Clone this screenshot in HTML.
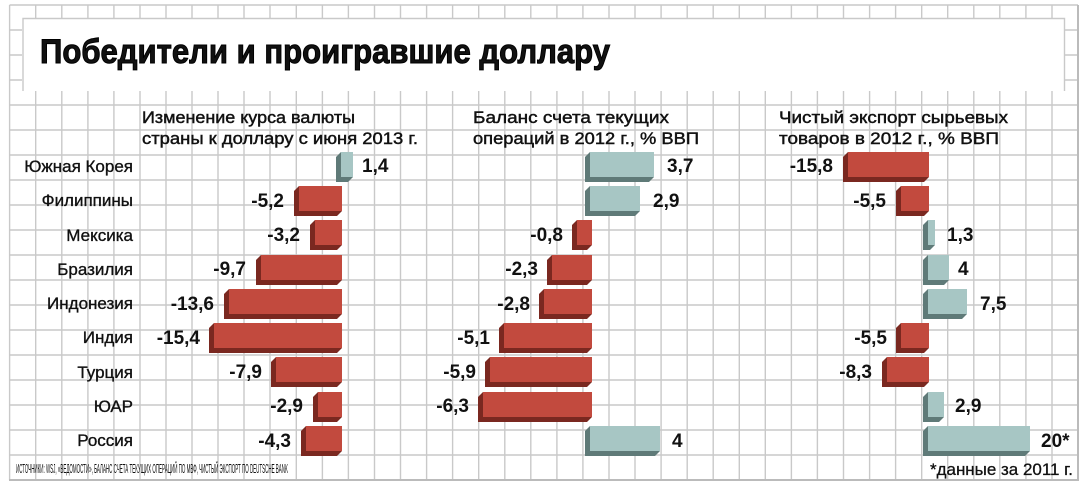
<!DOCTYPE html>
<html><head><meta charset="utf-8"><style>
html,body{margin:0;padding:0;background:#fff}
svg{display:block}
text{font-family:"Liberation Sans","DejaVu Sans",sans-serif;fill:#111}
.c{font-size:17px;stroke:#111;stroke-width:0.35}
.v{font-size:19px;font-weight:bold}
.h{font-size:17px;stroke:#111;stroke-width:0.45}
</style></head><body>
<svg width="1087" height="486" viewBox="0 0 1087 486" xmlns="http://www.w3.org/2000/svg">
<rect x="0" y="0" width="1087" height="486" fill="#fff"/>
<g stroke="#c9c9c9" stroke-width="1.4">
<line x1="9.6" y1="5" x2="9.6" y2="480"/><line x1="35.7" y1="5" x2="35.7" y2="480"/><line x1="61.8" y1="5" x2="61.8" y2="480"/><line x1="87.9" y1="5" x2="87.9" y2="480"/><line x1="113.9" y1="5" x2="113.9" y2="480"/><line x1="140" y1="5" x2="140" y2="480"/><line x1="166" y1="5" x2="166" y2="480"/><line x1="192" y1="5" x2="192" y2="480"/><line x1="218" y1="5" x2="218" y2="480"/><line x1="244" y1="5" x2="244" y2="480"/><line x1="270" y1="5" x2="270" y2="480"/><line x1="296.3" y1="5" x2="296.3" y2="480"/><line x1="322.4" y1="5" x2="322.4" y2="480"/><line x1="348.4" y1="5" x2="348.4" y2="480"/><line x1="374.5" y1="5" x2="374.5" y2="480"/><line x1="400.5" y1="5" x2="400.5" y2="480"/><line x1="426.6" y1="5" x2="426.6" y2="480"/><line x1="452.6" y1="5" x2="452.6" y2="480"/><line x1="478.7" y1="5" x2="478.7" y2="480"/><line x1="504.8" y1="5" x2="504.8" y2="480"/><line x1="530.8" y1="5" x2="530.8" y2="480"/><line x1="556.9" y1="5" x2="556.9" y2="480"/><line x1="582.9" y1="5" x2="582.9" y2="480"/><line x1="609" y1="5" x2="609" y2="480"/><line x1="635" y1="5" x2="635" y2="480"/><line x1="661.1" y1="5" x2="661.1" y2="480"/><line x1="687.2" y1="5" x2="687.2" y2="480"/><line x1="713.2" y1="5" x2="713.2" y2="480"/><line x1="739.3" y1="5" x2="739.3" y2="480"/><line x1="765.3" y1="5" x2="765.3" y2="480"/><line x1="791.4" y1="5" x2="791.4" y2="480"/><line x1="817.4" y1="5" x2="817.4" y2="480"/><line x1="843.5" y1="5" x2="843.5" y2="480"/><line x1="869.6" y1="5" x2="869.6" y2="480"/><line x1="895.6" y1="5" x2="895.6" y2="480"/><line x1="921.7" y1="5" x2="921.7" y2="480"/><line x1="947.7" y1="5" x2="947.7" y2="480"/><line x1="973.8" y1="5" x2="973.8" y2="480"/><line x1="999.8" y1="5" x2="999.8" y2="480"/><line x1="1025.9" y1="5" x2="1025.9" y2="480"/><line x1="1052" y1="5" x2="1052" y2="480"/>
<line x1="9.6" y1="5" x2="1078" y2="5"/><line x1="9.6" y1="30" x2="1078" y2="30"/><line x1="9.6" y1="55" x2="1078" y2="55"/><line x1="9.6" y1="80" x2="1078" y2="80"/><line x1="9.6" y1="105" x2="1078" y2="105"/><line x1="9.6" y1="130" x2="1078" y2="130"/><line x1="9.6" y1="155" x2="1078" y2="155"/><line x1="9.6" y1="180" x2="1078" y2="180"/><line x1="9.6" y1="205" x2="1078" y2="205"/><line x1="9.6" y1="230" x2="1078" y2="230"/><line x1="9.6" y1="255" x2="1078" y2="255"/><line x1="9.6" y1="280" x2="1078" y2="280"/><line x1="9.6" y1="305" x2="1078" y2="305"/><line x1="9.6" y1="330" x2="1078" y2="330"/><line x1="9.6" y1="355" x2="1078" y2="355"/><line x1="9.6" y1="380" x2="1078" y2="380"/><line x1="9.6" y1="405" x2="1078" y2="405"/><line x1="9.6" y1="430" x2="1078" y2="430"/><line x1="9.6" y1="455" x2="1078" y2="455"/>
</g>
<rect x="1077" y="5" width="2" height="476" fill="#bbb"/>
<rect x="9" y="479" width="1070" height="2" fill="#bbb"/>
<rect x="22" y="18" width="1043" height="73" fill="#fff"/>
<path d="M23 91 V18.5 H1064.5 V91" fill="none" stroke="#c9c9c9" stroke-width="1.4"/>
<text x="40" y="63" font-size="34" font-weight="bold" stroke="#000" stroke-width="1" textLength="570" lengthAdjust="spacingAndGlyphs">Победители и проигравшие доллару</text>
<text class="h" x="142" y="123" textLength="213" lengthAdjust="spacingAndGlyphs">Изменение курса валюты</text>
<text class="h" x="142" y="144" textLength="276" lengthAdjust="spacingAndGlyphs">страны к доллару с июня 2013 г.</text>
<text class="h" x="473" y="123" textLength="196" lengthAdjust="spacingAndGlyphs">Баланс счета текущих</text>
<text class="h" x="473" y="144" textLength="226" lengthAdjust="spacingAndGlyphs">операций в 2012 г., % ВВП</text>
<text class="h" x="779" y="123" textLength="229" lengthAdjust="spacingAndGlyphs">Чистый экспорт сырьевых</text>
<text class="h" x="779" y="144" textLength="220" lengthAdjust="spacingAndGlyphs">товаров в 2012 г., % ВВП</text>
<g text-anchor="end" class="c">
<text x="133" y="172">Южная Корея</text>
<text x="133" y="206">Филиппины</text>
<text x="133" y="241">Мексика</text>
<text x="133" y="275">Бразилия</text>
<text x="133" y="309">Индонезия</text>
<text x="133" y="343">Индия</text>
<text x="133" y="378">Турция</text>
<text x="133" y="412">ЮАР</text>
<text x="133" y="446">Россия</text>
</g>
<g>
<polygon points="341,152 353,152 353,177 348,182 336,182 336,157" fill="#5f7a78"/><rect x="341" y="152" width="12" height="25" fill="#a7c6c4"/>
<polygon points="299,186 342,186 342,211 337,216 294,216 294,191" fill="#7a2820"/><rect x="299" y="186" width="43" height="25" fill="#c24a3e"/>
<polygon points="315,220 342,220 342,245 337,250 310,250 310,225" fill="#7a2820"/><rect x="315" y="220" width="27" height="25" fill="#c24a3e"/>
<polygon points="261,255 342,255 342,280 337,285 256,285 256,260" fill="#7a2820"/><rect x="261" y="255" width="81" height="25" fill="#c24a3e"/>
<polygon points="229,289 342,289 342,314 337,319 224,319 224,294" fill="#7a2820"/><rect x="229" y="289" width="113" height="25" fill="#c24a3e"/>
<polygon points="214,323 342,323 342,348 337,353 209,353 209,328" fill="#7a2820"/><rect x="214" y="323" width="128" height="25" fill="#c24a3e"/>
<polygon points="276,357 342,357 342,382 337,387 271,387 271,362" fill="#7a2820"/><rect x="276" y="357" width="66" height="25" fill="#c24a3e"/>
<polygon points="318,392 342,392 342,417 337,422 313,422 313,397" fill="#7a2820"/><rect x="318" y="392" width="24" height="25" fill="#c24a3e"/>
<polygon points="306,426 342,426 342,451 337,456 301,456 301,431" fill="#7a2820"/><rect x="306" y="426" width="36" height="25" fill="#c24a3e"/>
<polygon points="590,152 654,152 654,177 649,182 585,182 585,157" fill="#5f7a78"/><rect x="590" y="152" width="64" height="25" fill="#a7c6c4"/>
<polygon points="590,186 640,186 640,211 635,216 585,216 585,191" fill="#5f7a78"/><rect x="590" y="186" width="50" height="25" fill="#a7c6c4"/>
<polygon points="577,220 592,220 592,245 587,250 572,250 572,225" fill="#7a2820"/><rect x="577" y="220" width="15" height="25" fill="#c24a3e"/>
<polygon points="552,255 592,255 592,280 587,285 547,285 547,260" fill="#7a2820"/><rect x="552" y="255" width="40" height="25" fill="#c24a3e"/>
<polygon points="544,289 592,289 592,314 587,319 539,319 539,294" fill="#7a2820"/><rect x="544" y="289" width="48" height="25" fill="#c24a3e"/>
<polygon points="504,323 592,323 592,348 587,353 499,353 499,328" fill="#7a2820"/><rect x="504" y="323" width="88" height="25" fill="#c24a3e"/>
<polygon points="490,357 592,357 592,382 587,387 485,387 485,362" fill="#7a2820"/><rect x="490" y="357" width="102" height="25" fill="#c24a3e"/>
<polygon points="483,392 592,392 592,417 587,422 478,422 478,397" fill="#7a2820"/><rect x="483" y="392" width="109" height="25" fill="#c24a3e"/>
<polygon points="590,426 660,426 660,451 655,456 585,456 585,431" fill="#5f7a78"/><rect x="590" y="426" width="70" height="25" fill="#a7c6c4"/>
<polygon points="848,152 929,152 929,177 924,182 843,182 843,157" fill="#7a2820"/><rect x="848" y="152" width="81" height="25" fill="#c24a3e"/>
<polygon points="901,186 929,186 929,211 924,216 896,216 896,191" fill="#7a2820"/><rect x="901" y="186" width="28" height="25" fill="#c24a3e"/>
<polygon points="928,220 935,220 935,245 930,250 923,250 923,225" fill="#5f7a78"/><rect x="928" y="220" width="7" height="25" fill="#a7c6c4"/>
<polygon points="928,255 949,255 949,280 944,285 923,285 923,260" fill="#5f7a78"/><rect x="928" y="255" width="21" height="25" fill="#a7c6c4"/>
<polygon points="928,289 967,289 967,314 962,319 923,319 923,294" fill="#5f7a78"/><rect x="928" y="289" width="39" height="25" fill="#a7c6c4"/>
<polygon points="901,323 929,323 929,348 924,353 896,353 896,328" fill="#7a2820"/><rect x="901" y="323" width="28" height="25" fill="#c24a3e"/>
<polygon points="887,357 929,357 929,382 924,387 882,387 882,362" fill="#7a2820"/><rect x="887" y="357" width="42" height="25" fill="#c24a3e"/>
<polygon points="928,392 944,392 944,417 939,422 923,422 923,397" fill="#5f7a78"/><rect x="928" y="392" width="16" height="25" fill="#a7c6c4"/>
<polygon points="928,426 1030,426 1030,451 1025,456 923,456 923,431" fill="#5f7a78"/><rect x="928" y="426" width="102" height="25" fill="#a7c6c4"/>
</g>
<g class="v">
<text x="362" y="172">1,4</text>
<g text-anchor="end">
<text x="284" y="207">-5,2</text><text x="300" y="241">-3,2</text><text x="246" y="275">-9,7</text><text x="214" y="310">-13,6</text><text x="200" y="344">-15,4</text><text x="262" y="378">-7,9</text><text x="303" y="412">-2,9</text><text x="291" y="447">-4,3</text>
<text x="563" y="241">-0,8</text><text x="538" y="275">-2,3</text><text x="530" y="310">-2,8</text><text x="490" y="344">-5,1</text><text x="476" y="378">-5,9</text><text x="469" y="412">-6,3</text>
<text x="833" y="172">-15,8</text><text x="886" y="207">-5,5</text><text x="887" y="344">-5,5</text><text x="872" y="378">-8,3</text>
</g>
<text x="667" y="172">3,7</text><text x="653" y="207">2,9</text><text x="672" y="447">4</text>
<text x="947" y="241">1,3</text><text x="958" y="275">4</text><text x="980" y="310">7,5</text><text x="955" y="412">2,9</text><text x="1041" y="447">20*</text>
</g>
<text x="16" y="473" font-size="13" textLength="272" lengthAdjust="spacingAndGlyphs">ИСТОЧНИКИ:  WSJ, «ВЕДОМОСТИ», БАЛАНС СЧЕТА ТЕКУЩИХ ОПЕРАЦИЙ ПО МВФ, ЧИСТЫЙ ЭКСПОРТ ПО DEUTSCHE BANK</text>
<text x="1073" y="475" font-size="17" text-anchor="end" stroke="#111" stroke-width="0.3" textLength="143" lengthAdjust="spacingAndGlyphs">*данные за 2011 г.</text>
</svg>
</body></html>
